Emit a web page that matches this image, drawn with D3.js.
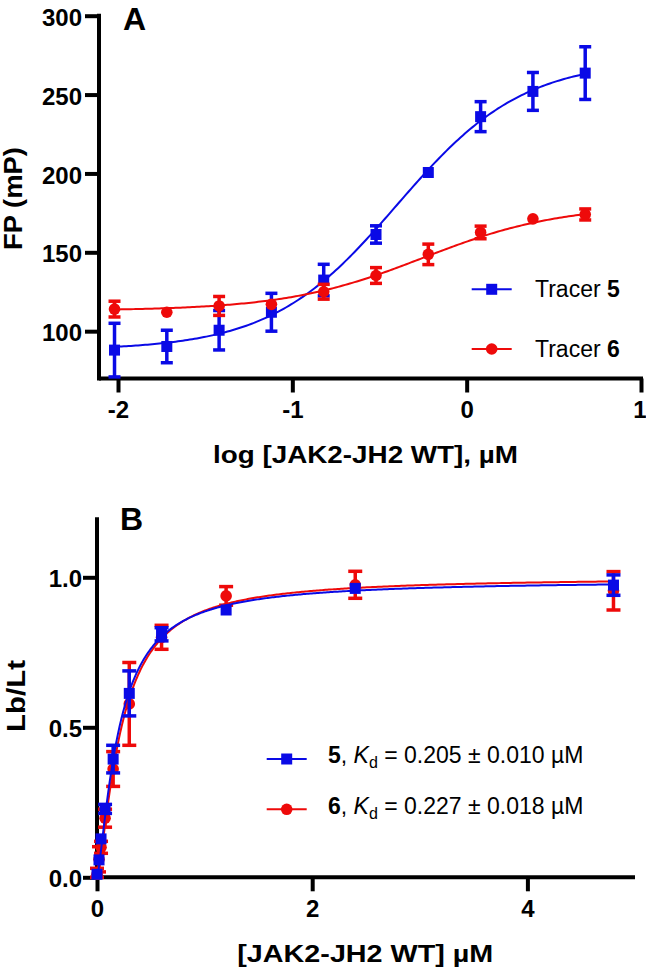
<!DOCTYPE html>
<html>
<head>
<meta charset="utf-8">
<script src="https://cdn.jsdelivr.net/npm/d3@7"></script>
<style>
  html, body { margin: 0; padding: 0; background: #fff; }
  svg { display: block; }
  text { font-family: "Liberation Sans", Arial, Helvetica, sans-serif; fill: #000; }
</style>
</head>
<body>
<svg id="chart" width="646" height="968"></svg>
<script>
// ---------- Panel A data ----------
const logConc = [-2.02, -1.72, -1.42, -1.12, -0.82, -0.52, -0.22, 0.08, 0.38, 0.68];
const fpTracer5 = [88, 90.3, 100.6, 112, 132.4, 161.3, 200.6, 236, 252, 263.6];
const fpTracer5Err = [17, 10.3, 12.5, 12, 10, 5.5, 2, 9.5, 12, 16.7];
const fpTracer6 = [114, 112, 116, 117, 125, 135.3, 148.7, 162.6, 171.2, 174];
const fpTracer6Err = [5, 1.5, 6, 2, 4.7, 5, 6.5, 4, 1.5, 3.5];
// sigmoidal fit parameters: bottom, top, logEC50, hill slope
const fitTracer5 = [88, 272, -0.40, 1.2];
const fitTracer6 = [113, 180, -0.25, 1.1];
const xTicksA = [-2, -1, 0, 1];
const yTicksA = [100, 150, 200, 250, 300];

// ---------- Panel B data ----------
const concB = [0, 0.01875, 0.0375, 0.075, 0.15, 0.3, 0.6, 1.2, 2.4, 4.8];
const lbTracer5 = [0.01, 0.058, 0.128, 0.228, 0.394, 0.613, 0.81, 0.891, 0.963, 0.974];
const lbTracer5Err = [0.01, 0.01, 0.01, 0.015, 0.046, 0.075, 0.022, 0.01, 0.01, 0.034];
const lbTracer6 = [0.01, 0.06, 0.10, 0.197, 0.361, 0.578, 0.80, 0.938, 0.975, 0.955];
const lbTracer6Err = [0.02, 0.042, 0.02, 0.03, 0.058, 0.138, 0.04, 0.031, 0.045, 0.064];
// binding fit parameters: Bmax, Kd, hill slope
const bindTracer5 = [0.99, 0.205, 1.35];
const bindTracer6 = [1.0, 0.227, 1.4];
const xTicksB = [0, 2, 4];
const yTicksB = [0, 0.5, 1.0];

const BLUE = "#0a0ae6";
const RED = "#ee0a0a";
const svg = d3.select("#chart");
const FONT_TICK = 24;

// ================= Panel A =================
const xA = d3.scaleLinear().domain([-2.109, 1]).range([99, 641]);
const yA = d3.scaleLinear().domain([70, 300]).range([378.5, 15.7]).clamp(true);

function styleAxis(g) {
  g.select(".domain").attr("stroke", "#000").attr("stroke-width", 4);
  g.selectAll(".tick line").attr("stroke", "#000").attr("stroke-width", 4);
  g.selectAll(".tick text").attr("font-size", FONT_TICK).attr("font-weight", "bold").attr("fill", "#000");
}

const gxA = svg.append("g").attr("transform", "translate(0,378.5)")
  .call(d3.axisBottom(xA).tickValues(xTicksA).tickSize(14).tickSizeOuter(0).tickFormat(d => String(d)));
styleAxis(gxA);
gxA.selectAll(".tick text").attr("y", 39.5).attr("dy", 0);
// keep the last label ("1") inside the page edge
gxA.selectAll(".tick text").filter(d => d === 1).attr("text-anchor", "end").attr("x", 5);
gxA.select(".domain").attr("d", `M${xA.range()[0]},0H${xA(1) + 2}`);

const gyA = svg.append("g").attr("transform", "translate(99,0)")
  .call(d3.axisLeft(yA).tickValues(yTicksA).tickSize(14).tickSizeOuter(0).tickFormat(d => String(d)));
styleAxis(gyA);
gyA.selectAll(".tick text").attr("x", -17).attr("dy", "0.4em");
gyA.select(".domain").attr("d", `M0,${yA(300) - 2}V${yA(70) + 2}`);

function sigmoid(p, x) {
  return p[0] + (p[1] - p[0]) / (1 + Math.pow(10, (p[2] - x) * p[3]));
}
const lineA = d3.line().x(d => xA(d[0])).y(d => yA(d[1]));
const sampleA = d3.range(0, 201).map(i => logConc[0] + (logConc[logConc.length - 1] - logConc[0]) * i / 200);

function drawMarkers(g, pts, color, shape) {
  if (shape === "square") {
    g.selectAll(".m").data(pts).enter().append("rect")
      .attr("x", d => d[0] - 5.5).attr("y", d => d[1] - 5.5)
      .attr("width", 11).attr("height", 11).attr("fill", color);
  } else {
    g.selectAll(".m").data(pts).enter().append("circle")
      .attr("cx", d => d[0]).attr("cy", d => d[1]).attr("r", 5.8).attr("fill", color);
  }
}

function drawSeriesA(vals, errs, fit, color, shape) {
  const g = svg.append("g");
  g.append("path").datum(sampleA.map(x => [x, sigmoid(fit, x)]))
    .attr("d", lineA).attr("fill", "none").attr("stroke", color).attr("stroke-width", 2);
  const eb = g.selectAll(".eb").data(logConc.map((x, i) => ({x, v: vals[i], e: errs[i]}))).enter().append("g");
  eb.append("line").attr("x1", d => xA(d.x)).attr("x2", d => xA(d.x))
    .attr("y1", d => yA(d.v - d.e)).attr("y2", d => yA(d.v + d.e))
    .attr("stroke", color).attr("stroke-width", 3.5);
  [-1, 1].forEach(s => {
    eb.filter(d => d.e > 3).append("line")
      .attr("x1", d => xA(d.x) - 6).attr("x2", d => xA(d.x) + 6)
      .attr("y1", d => yA(d.v + s * d.e)).attr("y2", d => yA(d.v + s * d.e))
      .attr("stroke", color).attr("stroke-width", 3.5);
  });
  drawMarkers(g, logConc.map((x, i) => [xA(x), yA(vals[i])]), color, shape);
}

drawSeriesA(fpTracer5, fpTracer5Err, fitTracer5, BLUE, "square");
drawSeriesA(fpTracer6, fpTracer6Err, fitTracer6, RED, "circle");

// legend A
function legendEntry(x1, x2, y, color, shape) {
  const g = svg.append("g");
  g.append("line").attr("x1", x1).attr("x2", x2).attr("y1", y).attr("y2", y)
    .attr("stroke", color).attr("stroke-width", 2);
  drawMarkers(g, [[(x1 + x2) / 2, y]], color, shape);
}
legendEntry(471.7, 511.7, 289.3, BLUE, "square");
legendEntry(471.7, 511.7, 349, RED, "circle");
const lt1 = svg.append("text").attr("x", 535).attr("y", 297).attr("font-size", 23);
lt1.append("tspan").text("Tracer ");
lt1.append("tspan").attr("font-weight", "bold").text("5");
const lt2 = svg.append("text").attr("x", 535).attr("y", 356.7).attr("font-size", 23);
lt2.append("tspan").text("Tracer ");
lt2.append("tspan").attr("font-weight", "bold").text("6");

// titles A
svg.append("text").attr("x", 123).attr("y", 29.5).attr("font-size", 32).attr("font-weight", "bold").text("A");
svg.append("text").attr("transform", "translate(22,198.5) rotate(-90)").attr("text-anchor", "middle")
  .attr("font-size", 25).attr("font-weight", "bold")
  .attr("textLength", 103).attr("lengthAdjust", "spacingAndGlyphs").text("FP (mP)");
svg.append("text").attr("x", 213).attr("y", 463).attr("font-size", 24.5).attr("font-weight", "bold")
  .attr("textLength", 305).attr("lengthAdjust", "spacingAndGlyphs").text("log [JAK2-JH2 WT], µM");

// ================= Panel B =================
const xB = d3.scaleLinear().domain([0, 5]).range([97, 635]);
const yB = d3.scaleLinear().domain([0, 1.2]).range([877.3, 517.3]).clamp(true);

const gxB = svg.append("g").attr("transform", "translate(0,877.3)")
  .call(d3.axisBottom(xB).tickValues(xTicksB).tickSize(14).tickSizeOuter(0).tickFormat(d => String(d)));
styleAxis(gxB);
gxB.selectAll(".tick text").attr("y", 40).attr("dy", 0);
gxB.select(".domain").attr("d", `M${xB(0)},0H${xB(5)}`);

const gyB = svg.append("g").attr("transform", "translate(97,0)")
  .call(d3.axisLeft(yB).tickValues(yTicksB).tickSize(14).tickSizeOuter(0).tickFormat(d3.format(".1f")));
styleAxis(gyB);
gyB.selectAll(".tick text").attr("x", -15).attr("dy", "0.4em");
gyB.select(".domain").attr("d", `M0,${yB(1.2)}V${yB(0) + 2}`);

function binding(p, x) {
  const xh = Math.pow(x, p[2]);
  return p[0] * xh / (Math.pow(p[1], p[2]) + xh);
}
const lineB = d3.line().x(d => xB(d[0])).y(d => yB(d[1]));
const sampleB = d3.range(0, 401).map(i => 4.8 * Math.pow(i / 400, 2));

function drawSeriesB(vals, errs, fit, color, shape) {
  const g = svg.append("g");
  g.append("path").datum(sampleB.map(x => [x, binding(fit, x)]))
    .attr("d", lineB).attr("fill", "none").attr("stroke", color).attr("stroke-width", 2);
  const eb = g.selectAll(".eb").data(concB.map((x, i) => ({x, v: vals[i], e: errs[i]}))).enter().append("g");
  eb.append("line").attr("x1", d => xB(d.x)).attr("x2", d => xB(d.x))
    .attr("y1", d => yB(d.v - d.e)).attr("y2", d => yB(d.v + d.e))
    .attr("stroke", color).attr("stroke-width", 3.5);
  [-1, 1].forEach(s => {
    eb.filter(d => d.e > 0.012).append("line")
      .attr("x1", d => xB(d.x) - 7).attr("x2", d => xB(d.x) + 7)
      .attr("y1", d => yB(d.v + s * d.e)).attr("y2", d => yB(d.v + s * d.e))
      .attr("stroke", color).attr("stroke-width", 3.5);
  });
  drawMarkers(g, concB.map((x, i) => [xB(x), yB(vals[i])]), color, shape);
}

drawSeriesB(lbTracer6, lbTracer6Err, bindTracer6, RED, "circle");
drawSeriesB(lbTracer5, lbTracer5Err, bindTracer5, BLUE, "square");

// legend B
legendEntry(266.7, 306.7, 759, BLUE, "square");
legendEntry(266.7, 306.7, 809.3, RED, "circle");
function kdLabel(y, num, kd) {
  const t = svg.append("text").attr("x", 328).attr("y", y).attr("font-size", 23);
  t.append("tspan").attr("font-weight", "bold").text(num);
  t.append("tspan").text(", ");
  t.append("tspan").attr("font-style", "italic").text("K");
  t.append("tspan").attr("font-size", 16).attr("dy", 5).text("d");
  t.append("tspan").attr("dy", -5).text(" = " + kd + " µM");
}
kdLabel(763.3, "5", "0.205 ± 0.010");
kdLabel(813.5, "6", "0.227 ± 0.018");

// titles B
svg.append("text").attr("x", 120).attr("y", 530).attr("font-size", 32).attr("font-weight", "bold").text("B");
svg.append("text").attr("transform", "translate(25,696) rotate(-90)").attr("text-anchor", "middle")
  .attr("font-size", 25).attr("font-weight", "bold")
  .attr("textLength", 72).attr("lengthAdjust", "spacingAndGlyphs").text("Lb/Lt");
svg.append("text").attr("x", 237.3).attr("y", 961.7).attr("font-size", 24.5).attr("font-weight", "bold")
  .attr("textLength", 256).attr("lengthAdjust", "spacingAndGlyphs").text("[JAK2-JH2 WT] µM");
</script>
</body>
</html>
